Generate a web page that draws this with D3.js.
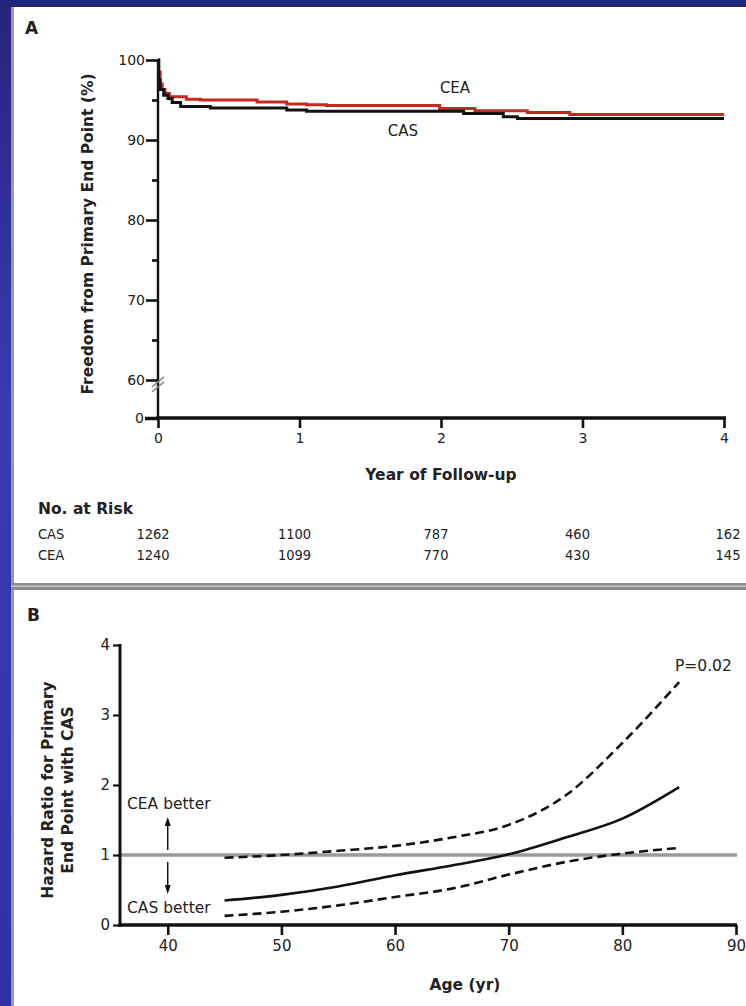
<!DOCTYPE html>
<html><head><meta charset="utf-8">
<script src="https://cdn.jsdelivr.net/npm/d3@7"></script>
<style>
html,body{margin:0;padding:0;background:#22237a;}
svg{display:block;}
text{font-family:"DejaVu Sans",sans-serif;fill:#222;}
.cond{font-family:"DejaVu Sans Condensed","DejaVu Sans",sans-serif;}
</style></head>
<body>
<script>
// ---------- Data ----------
// Panel A: Kaplan-Meier (years, % free from primary end point)
const casTimes = [0, 0.005, 0.015, 0.04, 0.07, 0.10, 0.16, 0.37, 0.91, 1.05, 2.16, 2.44, 2.54, 4.0];
const casSurv  = [100, 97.5, 96.3, 95.6, 95.2, 94.7, 94.2, 94.0, 93.75, 93.6, 93.3, 92.9, 92.7, 92.7];
const ceaTimes = [0, 0.005, 0.015, 0.03, 0.05, 0.08, 0.20, 0.30, 0.70, 0.91, 1.05, 1.19, 1.99, 2.24, 2.61, 2.91, 4.0];
const ceaSurv  = [100, 98.5, 97.0, 96.3, 95.8, 95.4, 95.1, 95.0, 94.75, 94.5, 94.4, 94.3, 93.95, 93.65, 93.45, 93.2, 93.2];
const yearTicks = [0, 1, 2, 3, 4];
const survTicks = [0, 60, 70, 80, 90, 100];
const survMinorTicks = [65, 75, 85, 95];
const riskGroups = ["CAS", "CEA"];
const riskCAS = [1262, 1100, 787, 460, 162];
const riskCEA = [1240, 1099, 770, 430, 145];

// Panel B: hazard ratio by age
const ages     = [45, 50, 55, 60, 65, 70, 75, 80, 85];
const hrMid    = [0.35, 0.43, 0.55, 0.71, 0.85, 1.01, 1.25, 1.52, 1.97];
const hrUpper  = [0.96, 1.00, 1.06, 1.13, 1.25, 1.43, 1.85, 2.60, 3.47];
const hrLower  = [0.13, 0.19, 0.28, 0.40, 0.52, 0.72, 0.90, 1.02, 1.10];
const ageTicks = [40, 50, 60, 70, 80, 90];
const hrTicks  = [0, 1, 2, 3, 4];

// ---------- Canvas ----------
const W = 746, H = 1006;
const fmt = d3.format("d");
const svg = d3.select("body").append("svg").attr("width", W).attr("height", H);
const defs = svg.append("defs");
const grad = defs.append("linearGradient").attr("id","lg").attr("x1",0).attr("y1",0).attr("x2",0).attr("y2",1);
grad.append("stop").attr("offset","0%").attr("stop-color","#25257f");
grad.append("stop").attr("offset","40%").attr("stop-color","#3a3ab2");
grad.append("stop").attr("offset","100%").attr("stop-color","#3030a6");

svg.append("rect").attr("width",W).attr("height",H).attr("fill","#22237a");
svg.append("rect").attr("x",0).attr("y",7).attr("width",11).attr("height",H-7).attr("fill","url(#lg)");
svg.append("rect").attr("x",11).attr("y",7).attr("width",W-11).attr("height",H-7).attr("fill","#fff");
svg.append("rect").attr("x",11).attr("y",7).attr("width",3).attr("height",H-7).attr("fill","#9a9a9a");
svg.append("rect").attr("x",11).attr("y",583).attr("width",W-11).attr("height",7).attr("fill","#8c8c8c");
svg.append("rect").attr("x",11).attr("y",585.5).attr("width",W-11).attr("height",1.5).attr("fill","#c8c8c8");

// ---------- Panel A ----------
const gA = svg.append("g");
const xA = d3.scaleLinear().domain([0, 4]).range([158, 724]);
const yA = d3.scaleLinear().domain([0, 60, 100]).range([418, 380, 60]);

gA.append("text").attr("x",25).attr("y",34).attr("font-size",17).attr("font-weight","bold").attr("fill","#111").text("A");

// y axis
const yAxisA = gA.append("g").attr("transform","translate(158,0)")
  .call(d3.axisLeft(yA).tickValues(survTicks.filter(d=>d>0)).tickFormat(fmt).tickSize(12).tickPadding(1).tickSizeOuter(0));
yAxisA.select(".domain").remove();
yAxisA.selectAll(".tick line").attr("stroke","#111").attr("stroke-width",2.6);
yAxisA.selectAll(".tick text").attr("font-size",14).attr("fill","#222");
const yMinorA = gA.append("g").attr("transform","translate(158,0)")
  .call(d3.axisLeft(yA).tickValues(survMinorTicks).tickSize(6).tickFormat(""));
yMinorA.select(".domain").remove();
yMinorA.selectAll(".tick line").attr("stroke","#111").attr("stroke-width",2.6);
gA.append("line").attr("x1",158).attr("x2",158).attr("y1",yA(100)-1).attr("y2",yA(0))
  .attr("stroke","#111").attr("stroke-width",2.4);
// zero tick of y
const yZero = gA.append("g").attr("transform","translate(158,0)")
  .call(d3.axisLeft(yA).tickValues([0]).tickFormat(fmt).tickSize(13).tickPadding(1));
yZero.select(".domain").remove();
yZero.selectAll(".tick line").attr("stroke","#111").attr("stroke-width",3.5);
yZero.selectAll(".tick text").attr("font-size",14).attr("fill","#222");
// axis break marks
[0,5].forEach(o=>{
  gA.append("line").attr("x1",152).attr("x2",164).attr("y1",yA(57)+o+5).attr("y2",yA(57)+o-5)
    .attr("stroke","#888").attr("stroke-width",1.4);
});

// x axis
const xAxisA = gA.append("g").attr("transform",`translate(0,${yA(0)})`)
  .call(d3.axisBottom(xA).tickValues(yearTicks).tickFormat(fmt).tickSize(10).tickPadding(5).tickSizeOuter(0));
xAxisA.select(".domain").attr("stroke","#111").attr("stroke-width",3.6).attr("d",`M156,0H726`);
xAxisA.selectAll(".tick line").attr("stroke","#111").attr("stroke-width",2.6);
xAxisA.selectAll(".tick text").attr("font-size",14).attr("fill","#222");

gA.append("text").attr("x",441).attr("y",480).attr("text-anchor","middle")
  .attr("font-size",15.5).attr("font-weight","bold").text("Year of Follow-up");
gA.append("text").attr("transform",`translate(93,${234}) rotate(-90)`).attr("text-anchor","middle")
  .attr("font-size",15.5).attr("font-weight","bold").text("Freedom from Primary End Point (%)");

// curves
const km = d3.line().x(d=>xA(d[0])).y(d=>yA(d[1])).curve(d3.curveStepAfter);
const casData = casTimes.map((t,i)=>[t,casSurv[i]]);
const ceaData = ceaTimes.map((t,i)=>[t,ceaSurv[i]]);
gA.append("path").attr("d",km(ceaData)).attr("fill","none").attr("stroke","#c62a1f").attr("stroke-width",3);
gA.append("path").attr("d",km(casData)).attr("fill","none").attr("stroke","#111").attr("stroke-width",3);

gA.append("text").attr("x",455).attr("y",93).attr("text-anchor","middle").attr("font-size",15).text("CEA");
gA.append("text").attr("x",403).attr("y",136).attr("text-anchor","middle").attr("font-size",15).text("CAS");

// number at risk
gA.append("text").attr("x",38).attr("y",514).attr("font-size",15.5).attr("font-weight","bold").text("No. at Risk");
const riskRows = [riskCAS, riskCEA];
riskGroups.forEach((g,i)=>{
  const yy = 539 + i*21;
  gA.append("text").attr("class","cond").attr("x",38).attr("y",yy).attr("font-size",14.5).text(g);
  gA.selectAll(null).data(riskRows[i]).enter().append("text").attr("class","cond")
    .attr("x",(d,j)=>xA(yearTicks[j]) - 5 + (j===4?9:0)).attr("y",yy).attr("text-anchor","middle")
    .attr("font-size",14.5).text(d=>d);
});

// ---------- Panel B ----------
const gB = svg.append("g");
const xB = d3.scaleLinear().domain([35.8, 90]).range([120, 736]);
const yB = d3.scaleLinear().domain([0, 4]).range([925, 645]);

gB.append("text").attr("x",27).attr("y",621).attr("font-size",17).attr("font-weight","bold").attr("fill","#111").text("B");

// reference line
gB.append("line").attr("x1",xB(35.8)).attr("x2",xB(90)+1).attr("y1",yB(1)).attr("y2",yB(1))
  .attr("stroke","#9a9a9a").attr("stroke-width",3.6);

const yAxisB = gB.append("g").attr("transform",`translate(${xB(35.8)},0)`)
  .call(d3.axisLeft(yB).tickValues(hrTicks).tickFormat(fmt).tickSize(7).tickPadding(3).tickSizeOuter(0));
yAxisB.select(".domain").attr("stroke","#111").attr("stroke-width",3).attr("d",`M0,${yB(4)-1}V${yB(0)+2}`);
yAxisB.selectAll(".tick line").attr("stroke","#111").attr("stroke-width",2.2);
yAxisB.selectAll(".tick text").attr("font-size",15).attr("fill","#222");

const xAxisB = gB.append("g").attr("transform",`translate(0,${yB(0)})`)
  .call(d3.axisBottom(xB).tickValues(ageTicks).tickFormat(fmt).tickSize(10).tickPadding(5).tickSizeOuter(0));
xAxisB.select(".domain").attr("stroke","#111").attr("stroke-width",3.6).attr("d",`M${xB(35.8)-1.5},0H${xB(90)+1}`);
xAxisB.selectAll(".tick line").attr("stroke","#111").attr("stroke-width",2.6);
xAxisB.selectAll(".tick text").attr("font-size",15).attr("fill","#222");

gB.append("text").attr("x",465).attr("y",990).attr("text-anchor","middle")
  .attr("font-size",15.5).attr("font-weight","bold").text("Age (yr)");
const yt = gB.append("text").attr("transform",`translate(0,${790}) rotate(-90)`).attr("text-anchor","middle")
  .attr("font-size",15.5).attr("font-weight","bold");
yt.append("tspan").attr("x",0).attr("y",53).text("Hazard Ratio for Primary");
yt.append("tspan").attr("x",0).attr("y",73).text("End Point with CAS");

const hrLine = d3.line().x(d=>xB(d[0])).y(d=>yB(d[1])).curve(d3.curveMonotoneX);
const mk = arr => ages.map((a,i)=>[a,arr[i]]);
gB.append("path").attr("d",hrLine(mk(hrUpper))).attr("fill","none").attr("stroke","#111")
  .attr("stroke-width",2.6).attr("stroke-dasharray","9,5");
gB.append("path").attr("d",hrLine(mk(hrLower))).attr("fill","none").attr("stroke","#111")
  .attr("stroke-width",2.6).attr("stroke-dasharray","9,5");
gB.append("path").attr("d",hrLine(mk(hrMid))).attr("fill","none").attr("stroke","#111")
  .attr("stroke-width",2.6);

gB.append("text").attr("x",127).attr("y",809).attr("font-size",15.5).text("CEA better");
gB.append("text").attr("x",127).attr("y",913).attr("font-size",15.5).text("CAS better");
// arrows
const ax = xB(40);
gB.append("line").attr("x1",ax).attr("x2",ax).attr("y1",850).attr("y2",824).attr("stroke","#111").attr("stroke-width",1.5);
gB.append("path").attr("d",`M${ax},817L${ax-3},826L${ax+3},826Z`).attr("fill","#111");
gB.append("line").attr("x1",ax).attr("x2",ax).attr("y1",862).attr("y2",887).attr("stroke","#111").attr("stroke-width",1.5);
gB.append("path").attr("d",`M${ax},894L${ax-3},885L${ax+3},885Z`).attr("fill","#111");

gB.append("text").attr("x",675).attr("y",671).attr("font-size",15.5).text("P=0.02");
</script>
</body></html>
